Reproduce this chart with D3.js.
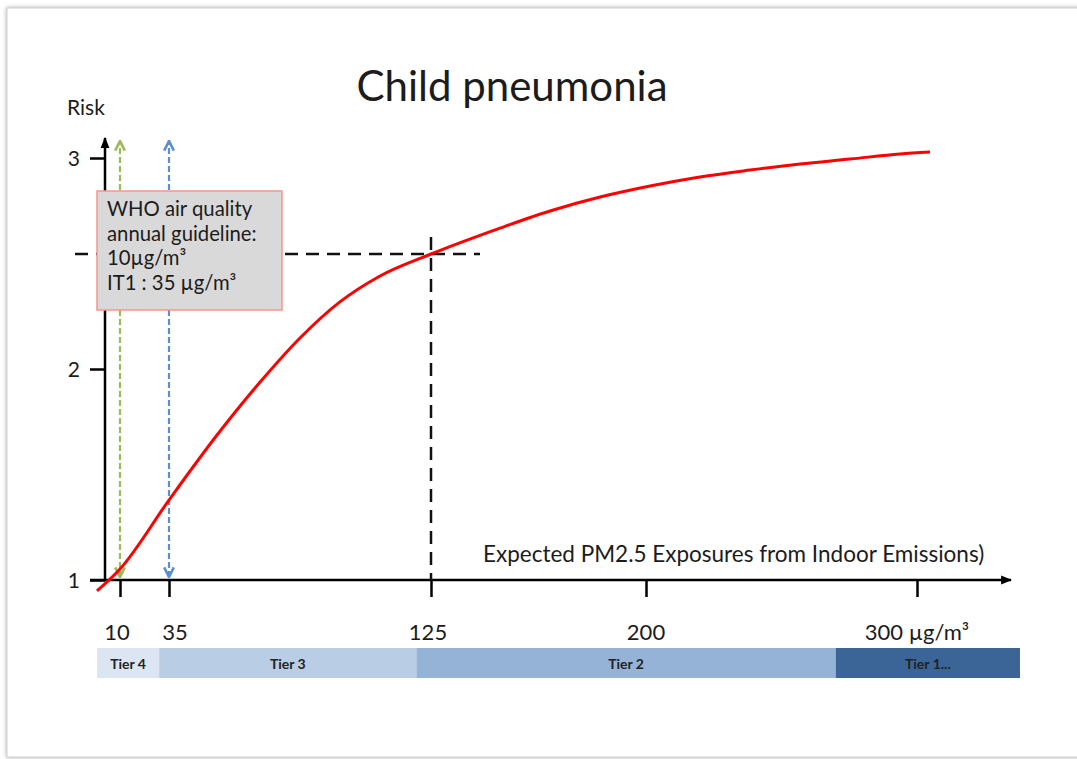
<!DOCTYPE html>
<html><head><meta charset="utf-8">
<script src="https://cdn.jsdelivr.net/npm/d3@7"></script>
<style>
html,body{margin:0;padding:0;background:#fff;}
text{font-family:Lato,"Open Sans",sans-serif;fill:#1c1c1c;}
</style></head>
<body><svg id="c" width="1077" height="759"></svg>
<script>
// ---- data ----
const exposure = [0, 10, 35, 51.5, 66.3, 80.0, 93.7, 107.5, 125, 149.1, 166.5, 184.0, 201.5, 219.9, 238.4, 256.8, 275.3, 293.7, 304.8];
const risk     = [0.948, 1.052, 1.379, 1.687, 1.938, 2.147, 2.318, 2.441, 2.545, 2.668, 2.749, 2.815, 2.867, 2.910, 2.943, 2.972, 2.995, 3.019, 3.028];
const xTicks = [10, 35, 125, 200, 300];
const xTickLabels = ["10", "35", "125", "200", "300 µg/m³"];
const yTicks = [1, 2, 3];
const tierNames = ["Tier 4", "Tier 3", "Tier 2", "Tier 1..."];
const tierStart = [0, 30, 120, 270];
const tierEnd   = [30, 120, 270, 338];
const tierColors = ["#dce6f2", "#b9cde5", "#95b3d7", "#3b6497"];
const guidelines = [10, 35];
const guidelineColors = ["#9bbb59", "#5b8fd0"];
const refExposure = 125, refRisk = 2.545;
const boxLines = ["WHO air quality", "annual guideline:", "10µg/m³", "IT1 : 35 µg/m³"];

const svg = d3.select("#c");
const defs = svg.append("defs");
defs.append("filter").attr("id","sh").attr("x","-5%").attr("y","-5%").attr("width","110%").attr("height","110%")
  .append("feDropShadow").attr("dx",0).attr("dy",0).attr("stdDeviation",2).attr("flood-color","#888").attr("flood-opacity",0.7);

// slide frame
svg.append("rect").attr("x",7).attr("y",8).attr("width",1090).attr("height",749)
  .attr("fill","#fff").attr("stroke","#cfcfcf").attr("stroke-width",1).attr("filter","url(#sh)");

// scales (the original axis is not drawn to scale: piecewise linear)
const x = d3.scaleLinear().domain([0, 10, 35, 125, 200, 300]).range([97, 120, 169, 431, 646, 917]);
const y = d3.scaleLinear().domain([1, 3]).range([580, 158]);
const xAxisEnd = 1011, yAxisTop = 138, axisX = 105;

// markers
function arrowMarker(id, color, filled){
  const m = defs.append("marker").attr("id",id).attr("viewBox","0 0 10 10").attr("refX",9).attr("refY",5)
    .attr("markerUnits","userSpaceOnUse").attr("markerWidth",filled?11:12).attr("markerHeight",filled?11:12).attr("orient","auto-start-reverse");
  if(filled) m.append("path").attr("d","M0,1 L10,5 L0,9 Z").attr("fill",color);
  else m.append("path").attr("d","M1,1 L9,5 L1,9").attr("fill","none").attr("stroke",color).attr("stroke-width",2.2);
}
arrowMarker("ab","#000",true);
guidelineColors.forEach((c,i)=>arrowMarker("ag"+i,c,false));

// tiers
const tiers = svg.append("g");
tierNames.forEach((n,i)=>{
  tiers.append("rect").attr("x",x(tierStart[i])).attr("y",648).attr("width",x(tierEnd[i])-x(tierStart[i])).attr("height",30)
    .attr("fill",tierColors[i]);
  tiers.append("text").attr("x",(x(tierStart[i])+x(tierEnd[i]))/2).attr("y",668.5).attr("text-anchor","middle")
    .attr("font-size",14).attr("font-weight","bold").style("fill","#222").text(n);
});

// axes
const xAxis = d3.axisBottom(x).tickValues(xTicks).tickSize(17).tickFormat("");
const gx = svg.append("g").attr("transform",`translate(0,${y(1)})`).call(xAxis);
gx.select(".domain").remove();
gx.selectAll(".tick line").attr("stroke","#000").attr("stroke-width",2.5);
svg.append("line").attr("x1",90).attr("x2",xAxisEnd).attr("y1",y(1)).attr("y2",y(1))
  .attr("stroke","#000").attr("stroke-width",2.5).attr("marker-end","url(#ab)");
xTicks.forEach((t,i)=>{
  svg.append("text").attr("x",x(t)+(i==0?-3:i==1?6:i==2?-3:0)).attr("y",640).attr("text-anchor","middle")
    .attr("font-size",22).text(xTickLabels[i]);
});

const yAxis = d3.axisLeft(y).tickValues(yTicks).tickSize(15).tickFormat("");
const gy = svg.append("g").attr("transform",`translate(${axisX},0)`).call(yAxis);
gy.select(".domain").remove();
gy.selectAll(".tick line").attr("stroke","#000").attr("stroke-width",2.5);
svg.append("line").attr("x1",axisX).attr("x2",axisX).attr("y1",y(1)+1).attr("y2",yAxisTop)
  .attr("stroke","#000").attr("stroke-width",2.5).attr("marker-end","url(#ab)");
yTicks.forEach(t=>{
  svg.append("text").attr("x",80).attr("y",y(t)+8).attr("text-anchor","end").attr("font-size",21).text(t);
});
svg.append("text").attr("x",67).attr("y",115).attr("font-size",21).text("Risk");

// guideline arrows
guidelines.forEach((g,i)=>{
  svg.append("line").attr("x1",x(g)).attr("x2",x(g)).attr("y1",y(1)-3).attr("y2",141)
    .attr("stroke",guidelineColors[i]).attr("stroke-width",2.2).attr("stroke-dasharray","6,3")
    .attr("marker-start","url(#ag"+i+")").attr("marker-end","url(#ag"+i+")");
});

// reference dashed lines
svg.append("line").attr("x1",75).attr("x2",480).attr("y1",y(refRisk)).attr("y2",y(refRisk))
  .attr("stroke","#111").attr("stroke-width",2.5).attr("stroke-dasharray","13,8");
svg.append("line").attr("x1",x(refExposure)).attr("x2",x(refExposure)).attr("y1",237).attr("y2",y(1))
  .attr("stroke","#111").attr("stroke-width",2.5).attr("stroke-dasharray","13,8");

// curve
const pts = exposure.map((e,i)=>[e,risk[i]]);
svg.append("path").datum(pts).attr("fill","none").attr("stroke","#ff0000").attr("stroke-width",3)
  .attr("d",d3.line().x(d=>x(d[0])).y(d=>y(d[1])).curve(d3.curveMonotoneX));

// annotation box
svg.append("rect").attr("x",97).attr("y",191).attr("width",185).attr("height",119)
  .attr("fill","#d9d9d9").attr("stroke","#f4978a").attr("stroke-width",1.5);
boxLines.forEach((l,i)=>{
  svg.append("text").attr("x",107).attr("y",216+i*24.5).attr("font-size",20.3).text(l);
});

// axis title & chart title
svg.append("text").attr("x",483).attr("y",562).attr("font-size",22.5).text("Expected PM2.5 Exposures from Indoor Emissions)");
svg.append("text").attr("x",512).attr("y",101).attr("text-anchor","middle").attr("font-size",42).text("Child pneumonia");
</script></body></html>
